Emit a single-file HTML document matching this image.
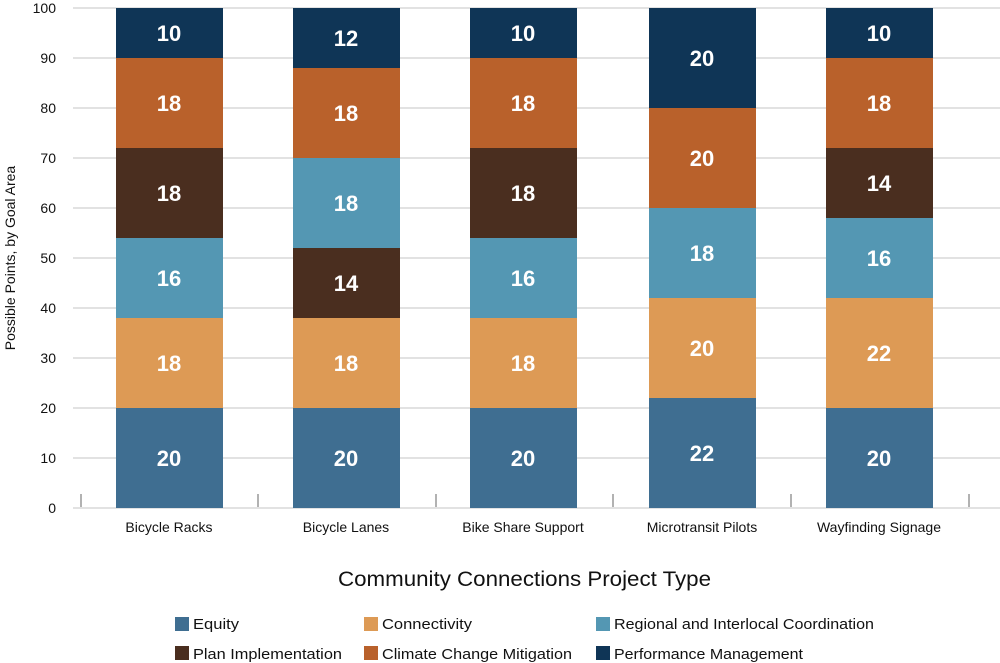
<!DOCTYPE html>
<html><head><meta charset="utf-8"><style>
html,body{margin:0;padding:0;background:#fff;}
svg{display:block;font-family:"Liberation Sans",sans-serif;}
.v{fill:#fff;font-weight:bold;font-size:22px;text-anchor:middle;}
.t{font-size:14px;fill:#111;}
.l{font-size:15px;fill:#111;}
</style></head><body>
<svg width="1000" height="663" viewBox="0 0 1000 663">
<g stroke="#d9d9d9" stroke-width="1.5">
<line x1="73" x2="1000" y1="508" y2="508"/><line x1="73" x2="1000" y1="458" y2="458"/>
<line x1="73" x2="1000" y1="408" y2="408"/><line x1="73" x2="1000" y1="358" y2="358"/>
<line x1="73" x2="1000" y1="308" y2="308"/><line x1="73" x2="1000" y1="258" y2="258"/>
<line x1="73" x2="1000" y1="208" y2="208"/><line x1="73" x2="1000" y1="158" y2="158"/>
<line x1="73" x2="1000" y1="108" y2="108"/><line x1="73" x2="1000" y1="58" y2="58"/>
<line x1="73" x2="1000" y1="8" y2="8"/>
</g>
<g stroke="#999" stroke-width="1.5">
<line x1="81" x2="81" y1="494" y2="507"/><line x1="258" x2="258" y1="494" y2="507"/>
<line x1="436" x2="436" y1="494" y2="507"/><line x1="613" x2="613" y1="494" y2="507"/>
<line x1="791" x2="791" y1="494" y2="507"/><line x1="969" x2="969" y1="494" y2="507"/>
</g>
<g class="t" text-anchor="end">
<text x="56" y="513">0</text><text x="56" y="463">10</text><text x="56" y="413">20</text>
<text x="56" y="363">30</text><text x="56" y="313">40</text><text x="56" y="263">50</text>
<text x="56" y="213">60</text><text x="56" y="163">70</text><text x="56" y="113">80</text>
<text x="56" y="63">90</text><text x="56" y="13">100</text>
</g>
<text class="t" transform="translate(15,258) rotate(-90)" text-anchor="middle">Possible Points, by Goal Area</text>
<g>
<rect x="116" y="408" width="107" height="100" fill="#3f6e91"/>
<rect x="116" y="318" width="107" height="90" fill="#dd9a55"/>
<rect x="116" y="238" width="107" height="80" fill="#5497b3"/>
<rect x="116" y="148" width="107" height="90" fill="#4a2e1f"/>
<rect x="116" y="58" width="107" height="90" fill="#b9612b"/>
<rect x="116" y="8" width="107" height="50" fill="#0f3556"/>
<text class="v" x="169" y="466">20</text><text class="v" x="169" y="371">18</text>
<text class="v" x="169" y="286">16</text><text class="v" x="169" y="201">18</text>
<text class="v" x="169" y="111">18</text><text class="v" x="169" y="41">10</text>
</g>
<g>
<rect x="293" y="408" width="107" height="100" fill="#3f6e91"/>
<rect x="293" y="318" width="107" height="90" fill="#dd9a55"/>
<rect x="293" y="248" width="107" height="70" fill="#4a2e1f"/>
<rect x="293" y="158" width="107" height="90" fill="#5497b3"/>
<rect x="293" y="68" width="107" height="90" fill="#b9612b"/>
<rect x="293" y="8" width="107" height="60" fill="#0f3556"/>
<text class="v" x="346" y="466">20</text><text class="v" x="346" y="371">18</text>
<text class="v" x="346" y="291">14</text><text class="v" x="346" y="211">18</text>
<text class="v" x="346" y="121">18</text><text class="v" x="346" y="46">12</text>
</g>
<g>
<rect x="470" y="408" width="107" height="100" fill="#3f6e91"/>
<rect x="470" y="318" width="107" height="90" fill="#dd9a55"/>
<rect x="470" y="238" width="107" height="80" fill="#5497b3"/>
<rect x="470" y="148" width="107" height="90" fill="#4a2e1f"/>
<rect x="470" y="58" width="107" height="90" fill="#b9612b"/>
<rect x="470" y="8" width="107" height="50" fill="#0f3556"/>
<text class="v" x="523" y="466">20</text><text class="v" x="523" y="371">18</text>
<text class="v" x="523" y="286">16</text><text class="v" x="523" y="201">18</text>
<text class="v" x="523" y="111">18</text><text class="v" x="523" y="41">10</text>
</g>
<g>
<rect x="649" y="398" width="107" height="110" fill="#3f6e91"/>
<rect x="649" y="298" width="107" height="100" fill="#dd9a55"/>
<rect x="649" y="208" width="107" height="90" fill="#5497b3"/>
<rect x="649" y="108" width="107" height="100" fill="#b9612b"/>
<rect x="649" y="8" width="107" height="100" fill="#0f3556"/>
<text class="v" x="702" y="461">22</text><text class="v" x="702" y="356">20</text>
<text class="v" x="702" y="261">18</text><text class="v" x="702" y="166">20</text>
<text class="v" x="702" y="66">20</text>
</g>
<g>
<rect x="826" y="408" width="107" height="100" fill="#3f6e91"/>
<rect x="826" y="298" width="107" height="110" fill="#dd9a55"/>
<rect x="826" y="218" width="107" height="80" fill="#5497b3"/>
<rect x="826" y="148" width="107" height="70" fill="#4a2e1f"/>
<rect x="826" y="58" width="107" height="90" fill="#b9612b"/>
<rect x="826" y="8" width="107" height="50" fill="#0f3556"/>
<text class="v" x="879" y="466">20</text><text class="v" x="879" y="361">22</text>
<text class="v" x="879" y="266">16</text><text class="v" x="879" y="191">14</text>
<text class="v" x="879" y="111">18</text><text class="v" x="879" y="41">10</text>
</g>
<g class="t" text-anchor="middle">
<text x="169" y="532">Bicycle Racks</text><text x="346" y="532">Bicycle Lanes</text>
<text x="523" y="532">Bike Share Support</text><text x="702" y="532">Microtransit Pilots</text>
<text x="879" y="532">Wayfinding Signage</text>
</g>
<text x="338" y="586" font-size="21" fill="#111" textLength="373" lengthAdjust="spacingAndGlyphs">Community Connections Project Type</text>
<g class="l">
<rect x="175" y="617" width="14" height="14" fill="#3f6e91"/><text x="193" y="629" textLength="46" lengthAdjust="spacingAndGlyphs">Equity</text>
<rect x="364" y="617" width="14" height="14" fill="#dd9a55"/><text x="382" y="629" textLength="90" lengthAdjust="spacingAndGlyphs">Connectivity</text>
<rect x="596" y="617" width="14" height="14" fill="#5497b3"/><text x="614" y="629" textLength="260" lengthAdjust="spacingAndGlyphs">Regional and Interlocal Coordination</text>
<rect x="175" y="646" width="14" height="14" fill="#4a2e1f"/><text x="193" y="659" textLength="149" lengthAdjust="spacingAndGlyphs">Plan Implementation</text>
<rect x="364" y="646" width="14" height="14" fill="#b9612b"/><text x="382" y="659" textLength="190" lengthAdjust="spacingAndGlyphs">Climate Change Mitigation</text>
<rect x="596" y="646" width="14" height="14" fill="#0f3556"/><text x="614" y="659" textLength="189" lengthAdjust="spacingAndGlyphs">Performance Management</text>
</g>
</svg>
</body></html>
